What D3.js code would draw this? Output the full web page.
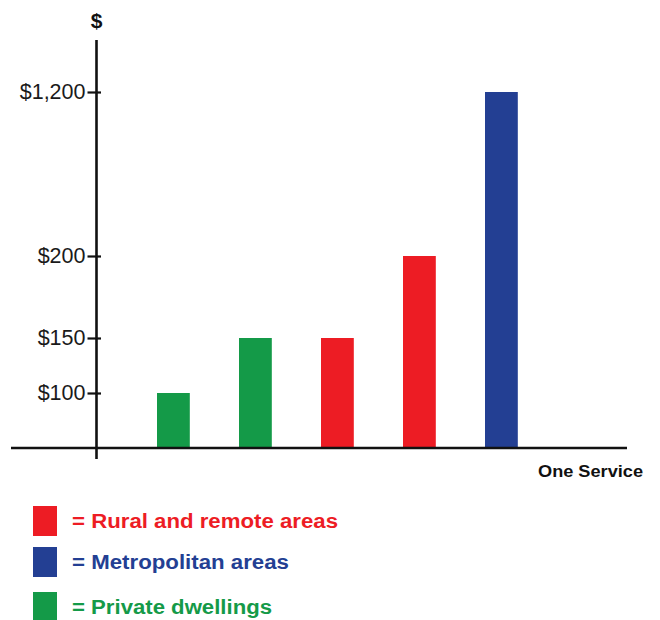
<!DOCTYPE html>
<html>
<head>
<meta charset="utf-8">
<script src="https://cdn.jsdelivr.net/npm/d3@7"></script>
<style>
  html, body { margin: 0; padding: 0; background: #fff; }
  svg { display: block; }
  text { font-family: "Liberation Sans", Arial, Helvetica, sans-serif; }
</style>
</head>
<body>
<svg id="chart" width="660" height="620"></svg>
<script>
// Cost of one service by setting
const categories = ["Private A", "Private B", "Rural A", "Rural B", "Metropolitan"];
const groups     = ["private", "private", "rural", "rural", "metro"];
const values     = [100, 150, 150, 200, 1200];
const tickValues = [100, 150, 200, 1200];

const legendKeys   = ["rural", "metro", "private"];
const legendLabels = ["= Rural and remote areas", "= Metropolitan areas", "= Private dwellings"];
const groupColors  = { rural: "#ed1c24", metro: "#233f93", private: "#149a48" };

const svg = d3.select("#chart");

const axisX = 96.5, baseY = 448;

// Broken (piecewise) value axis
const y = d3.scaleLinear()
  .domain([0, 100, 150, 200, 1200])
  .range([baseY, 393, 338, 256, 92]);

const x = d3.scaleBand()
  .domain(categories)
  .range([116, 558.8])
  .paddingInner(0.6)
  .paddingOuter(0.5);

// Bars
svg.append("g")
  .selectAll("rect")
  .data(categories)
  .join("rect")
  .attr("x", d => x(d))
  .attr("width", x.bandwidth())
  .attr("y", (d, i) => y(values[i]))
  .attr("height", (d, i) => y(0) - y(values[i]))
  .attr("fill", (d, i) => groupColors[groups[i]]);

// Y axis
const yAxis = svg.append("g")
  .attr("transform", `translate(${axisX},0)`)
  .call(d3.axisLeft(y)
    .tickValues(tickValues)
    .tickSize(9)
    .tickPadding(11)
    .tickFormat(d => "$" + d3.format(",")(d)));

yAxis.select(".domain").remove();
yAxis.selectAll(".tick line")
  .attr("x1", 4.5)
  .attr("stroke", "#111")
  .attr("stroke-width", 2.2);
yAxis.selectAll(".tick text")
  .attr("x", -11)
  .attr("font-size", 21.5)
  .attr("fill", "#1a1a1a")
  .attr("font-family", "'Liberation Sans', Arial, sans-serif");

// Axis lines
svg.append("line")
  .attr("x1", axisX).attr("x2", axisX)
  .attr("y1", 40).attr("y2", 459)
  .attr("stroke", "#111").attr("stroke-width", 2.6);

svg.append("line")
  .attr("x1", 11).attr("x2", 627)
  .attr("y1", baseY).attr("y2", baseY)
  .attr("stroke", "#111").attr("stroke-width", 2.6);

// Axis titles
svg.append("text")
  .attr("x", axisX).attr("y", 28)
  .attr("text-anchor", "middle")
  .attr("font-size", 21).attr("font-weight", "bold")
  .attr("fill", "#111")
  .text("$");

svg.append("text")
  .attr("x", 538).attr("y", 477)
  .attr("font-size", 17).attr("font-weight", "bold")
  .attr("fill", "#111")
  .attr("textLength", 105)
  .attr("lengthAdjust", "spacingAndGlyphs")
  .text("One Service");

// Legend
const legendY = [506, 547, 592];
const legendWidths = [266, 217, 200];
const legend = svg.append("g")
  .selectAll("g")
  .data(legendKeys)
  .join("g")
  .attr("transform", (d, i) => `translate(33,${legendY[i]})`);

legend.append("rect")
  .attr("width", 24).attr("height", 30)
  .attr("fill", d => groupColors[d]);

legend.append("text")
  .attr("x", 39).attr("y", 22)
  .attr("font-size", 19.5).attr("font-weight", "bold")
  .attr("fill", d => groupColors[d])
  .attr("textLength", (d, i) => legendWidths[i])
  .attr("lengthAdjust", "spacingAndGlyphs")
  .text((d, i) => legendLabels[i]);
</script>
</body>
</html>
